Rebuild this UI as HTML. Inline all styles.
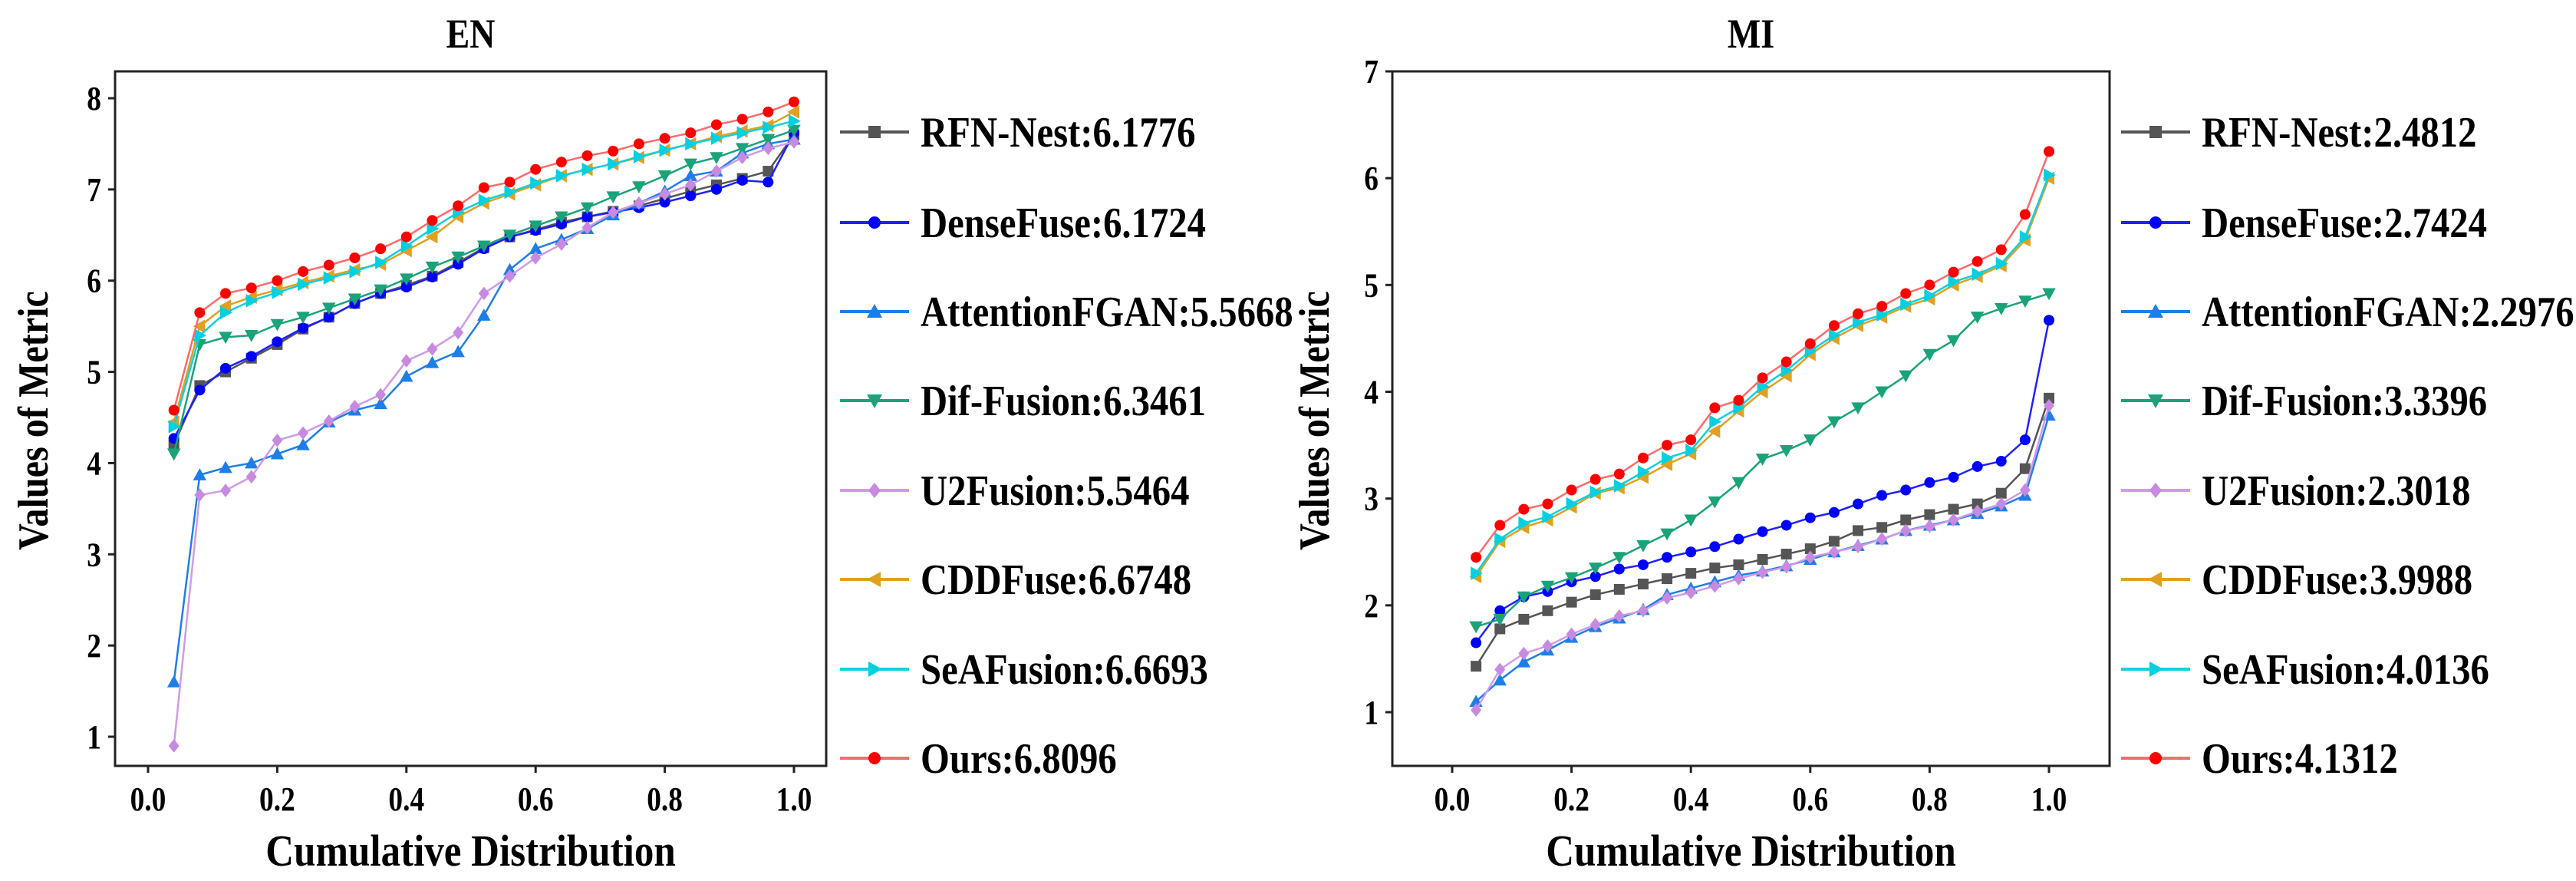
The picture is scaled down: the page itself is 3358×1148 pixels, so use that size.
<!DOCTYPE html>
<html><head><meta charset="utf-8"><style>
html,body{margin:0;padding:0;background:#fff;}
svg{display:block;font-family:"Liberation Serif",serif;font-weight:bold;}
</style></head><body>
<svg id="chart" width="3358" height="1148" viewBox="0 0 3358 1148" xmlns="http://www.w3.org/2000/svg"></svg>
<script>
const xs = [0.04,0.08,0.12,0.16,0.20,0.24,0.28,0.32,0.36,0.40,0.44,0.48,0.52,0.56,0.60,0.64,0.68,0.72,0.76,0.80,0.84,0.88,0.92,0.96,1.00];
const seriesNames = ["RFN-Nest","DenseFuse","AttentionFGAN","Dif-Fusion","U2Fusion","CDDFuse","SeAFusion","Ours"];
const enScores = ["6.1776","6.1724","5.5668","6.3461","5.5464","6.6748","6.6693","6.8096"];
const miScores = ["2.4812","2.7424","2.2976","3.3396","2.3018","3.9988","4.0136","4.1312"];
const xTicks = [0.0,0.2,0.4,0.6,0.8,1.0];
const xTickLabels = ["0.0","0.2","0.4","0.6","0.8","1.0"];
const enYTicks = [1,2,3,4,5,6,7,8];
const miYTicks = [1,2,3,4,5,6,7];

const enRFN = [4.2,4.85,5.0,5.15,5.3,5.47,5.6,5.75,5.86,5.95,6.05,6.2,6.36,6.48,6.56,6.64,6.7,6.76,6.82,6.9,6.98,7.05,7.12,7.2,7.6];
const enDense = [4.27,4.8,5.04,5.17,5.33,5.48,5.6,5.75,5.86,5.93,6.04,6.18,6.35,6.48,6.55,6.62,6.7,6.75,6.8,6.86,6.93,7.0,7.1,7.08,7.62];
const enAtt = [1.6,3.87,3.95,4.0,4.1,4.2,4.45,4.58,4.65,4.95,5.1,5.22,5.62,6.12,6.35,6.45,6.57,6.72,6.85,6.98,7.15,7.2,7.4,7.5,7.55];
const enDif = [4.1,5.3,5.38,5.4,5.52,5.6,5.7,5.8,5.9,6.02,6.15,6.26,6.38,6.5,6.6,6.7,6.8,6.92,7.03,7.15,7.28,7.35,7.45,7.55,7.65];
const enU2 = [0.9,3.65,3.7,3.85,4.25,4.33,4.46,4.62,4.75,5.12,5.25,5.43,5.86,6.05,6.25,6.4,6.58,6.75,6.85,6.95,7.05,7.2,7.35,7.45,7.52];
const enCDD = [4.45,5.5,5.72,5.82,5.9,5.98,6.05,6.12,6.18,6.33,6.48,6.7,6.85,6.95,7.05,7.15,7.22,7.28,7.35,7.43,7.5,7.58,7.64,7.7,7.85];
const enSeA = [4.4,5.4,5.65,5.78,5.87,5.96,6.03,6.1,6.2,6.38,6.57,6.75,6.88,6.97,7.07,7.15,7.22,7.28,7.36,7.43,7.5,7.56,7.62,7.68,7.75];
const enOurs = [4.58,5.65,5.86,5.92,6.0,6.1,6.17,6.25,6.35,6.48,6.66,6.82,7.02,7.08,7.22,7.3,7.37,7.42,7.5,7.56,7.62,7.71,7.77,7.85,7.96];

const miRFN = [1.43,1.78,1.87,1.95,2.03,2.1,2.15,2.2,2.25,2.3,2.35,2.38,2.43,2.48,2.53,2.6,2.7,2.73,2.8,2.85,2.9,2.95,3.05,3.28,3.94];
const miDense = [1.65,1.95,2.08,2.13,2.22,2.27,2.34,2.38,2.45,2.5,2.55,2.62,2.69,2.75,2.82,2.87,2.95,3.03,3.08,3.15,3.2,3.3,3.35,3.55,4.67];
const miAtt = [1.1,1.3,1.47,1.58,1.7,1.8,1.88,1.96,2.1,2.16,2.22,2.28,2.32,2.37,2.43,2.5,2.56,2.62,2.7,2.75,2.8,2.86,2.93,3.03,3.78];
const miDif = [1.8,1.87,2.08,2.18,2.26,2.35,2.45,2.56,2.67,2.8,2.97,3.15,3.37,3.45,3.55,3.72,3.85,4.0,4.15,4.35,4.48,4.7,4.78,4.85,4.92];
const miU2 = [1.02,1.4,1.55,1.62,1.73,1.82,1.9,1.95,2.07,2.12,2.18,2.25,2.31,2.36,2.45,2.5,2.55,2.62,2.7,2.74,2.8,2.88,2.95,3.08,3.87];
const miCDD = [2.27,2.6,2.73,2.8,2.92,3.05,3.1,3.2,3.32,3.42,3.63,3.82,4.0,4.15,4.35,4.5,4.62,4.7,4.8,4.87,5.0,5.08,5.18,5.42,6.0];
const miSeA = [2.3,2.62,2.77,2.83,2.95,3.06,3.12,3.25,3.38,3.45,3.72,3.85,4.05,4.2,4.38,4.53,4.65,4.72,4.82,4.9,5.03,5.1,5.2,5.45,6.03];
const miOurs = [2.45,2.75,2.9,2.95,3.08,3.18,3.23,3.38,3.5,3.55,3.85,3.92,4.13,4.28,4.45,4.62,4.73,4.8,4.92,5.0,5.12,5.22,5.33,5.66,6.25];

const lineColors = ["#555555","#2020ff","#1e7ee8","#1aa37a","#d09ae8","#e0a020","#10d0e0","#ff6a6a"];
const markColors = ["#555555","#0000ff","#1e7ee8","#1aa37a","#c78ae0","#e0a020","#00d0e0","#ff0000"];
const markers = ["square","circle","tri-up","tri-down","diamond","tri-left","tri-right","circle"];

const NS = "http://www.w3.org/2000/svg";
const svg = document.getElementById("chart");
function mk(tag, attrs, parent){
  const e = document.createElementNS(NS, tag);
  for (const k in attrs) e.setAttribute(k, attrs[k]);
  (parent||svg).appendChild(e);
  return e;
}
function txt(parent, str, x, y, size, anchor, sx, rot){
  const e = mk("text",{x:0,y:0,"font-size":size,"text-anchor":anchor,
    transform:"translate("+x+","+y+")"+(rot?" rotate("+rot+")":"")+" scale("+sx+",1)"},parent);
  e.textContent = str;
  return e;
}
function marker(g, type, cx, cy, color, r){
  let e;
  if (type==="circle") e = mk("circle",{cx:cx,cy:cy,r:r,fill:color},g);
  else if (type==="square") e = mk("rect",{x:cx-r,y:cy-r,width:2*r,height:2*r,fill:color},g);
  else {
    let p;
    const s=r*1.25;
    if (type==="tri-up") p=[[cx,cy-s],[cx+s,cy+s*0.8],[cx-s,cy+s*0.8]];
    else if (type==="tri-down") p=[[cx,cy+s],[cx+s,cy-s*0.8],[cx-s,cy-s*0.8]];
    else if (type==="tri-left") p=[[cx-s,cy],[cx+s*0.8,cy-s],[cx+s*0.8,cy+s]];
    else if (type==="tri-right") p=[[cx+s,cy],[cx-s*0.8,cy-s],[cx-s*0.8,cy+s]];
    else p=[[cx,cy-s],[cx+s*0.8,cy],[cx,cy+s],[cx-s*0.8,cy]];
    e = mk("polygon",{points:p.map(q=>q.join(",")).join(" "),fill:color},g);
  }
  
  
  return e;
}

function panel(cfg){
  const g = mk("g",{});
  
  
  const X = v => cfg.x0 + (v-0)*(cfg.x1-cfg.x0);
  const Y = v => cfg.yA + (cfg.vA - v)*(cfg.yB-cfg.yA)/(cfg.vA-cfg.vB);
  const t = txt(g, cfg.title, (cfg.L+cfg.R)/2, 62, 54, "middle", 0.85);
  
  
  const sg = mk("g",{},g);
  
  
  cfg.data.forEach((arr,i)=>{
    const s = mk("g",{},sg);
    
    
    const pl = mk("polyline",{points:arr.map((v,j)=>X(xs[j])+","+Y(v)).join(" "),fill:"none",stroke:lineColors[i],"stroke-width":2.5},s);
    
    
    arr.forEach((v,j)=>marker(s,markers[i],X(xs[j]),Y(v),markColors[i],7));
  });
  const fr = mk("rect",{x:cfg.L,y:cfg.T,width:cfg.R-cfg.L,height:cfg.B-cfg.T,fill:"none",stroke:"#222","stroke-width":3},g);
  
  
  xTicks.forEach((v,i)=>{
    const x = X(v);
    const tk = mk("line",{x1:x,x2:x,y1:cfg.B,y2:cfg.B+9,stroke:"#222","stroke-width":3},g);
    
    
    const tl = txt(g, xTickLabels[i], x, cfg.B+58, 44, "middle", 0.85);
    
    
  });
  cfg.yTicks.forEach(v=>{
    const y = Y(v);
    const tk = mk("line",{x1:cfg.L-9,x2:cfg.L,y1:y,y2:y,stroke:"#222","stroke-width":3},g);
    
    
    const tl = txt(g, String(v), cfg.L-18, y+15, 44, "end", 0.85);
    
    
  });
  const xl = txt(g, "Cumulative Distribution", (cfg.L+cfg.R)/2, 1128, 58, "middle", 0.88);
  
  
  const yl = txt(g, "Values of Metric", cfg.ylx, 548, 56, "middle", 0.86, -90);
  
  
  const lg = mk("g",{},g);
  
  
  const rows=[172,290,406,522,639,755,872,988];
  seriesNames.forEach((n,i)=>{
    const e = mk("g",{},lg);
    
    
    const y=rows[i];
    mk("line",{x1:cfg.legX,x2:cfg.legX+90,y1:y,y2:y,stroke:lineColors[i],"stroke-width":4},e);
    marker(e,markers[i],cfg.legX+45,y,markColors[i],8);
    const tx = txt(e, n+":"+cfg.scores[i], cfg.legX+105, y+19, 56, "start", 0.87);
    
    
  });
}

panel({name:"en-panel",title:"EN",L:150,R:1077,T:93,B:998,x0:193,x1:1035,yA:128,vA:8,yB:960,vB:1,
  yTicks:enYTicks,data:[enRFN,enDense,enAtt,enDif,enU2,enCDD,enSeA,enOurs],scores:enScores,legX:1095,ylx:62});
panel({name:"mi-panel",title:"MI",L:1815,R:2750,T:93,B:998,x0:1893,x1:2671,yA:93,vA:7,yB:928,vB:1,
  yTicks:miYTicks,data:[miRFN,miDense,miAtt,miDif,miU2,miCDD,miSeA,miOurs],scores:miScores,legX:2765,ylx:1732});
</script>
</body></html>
